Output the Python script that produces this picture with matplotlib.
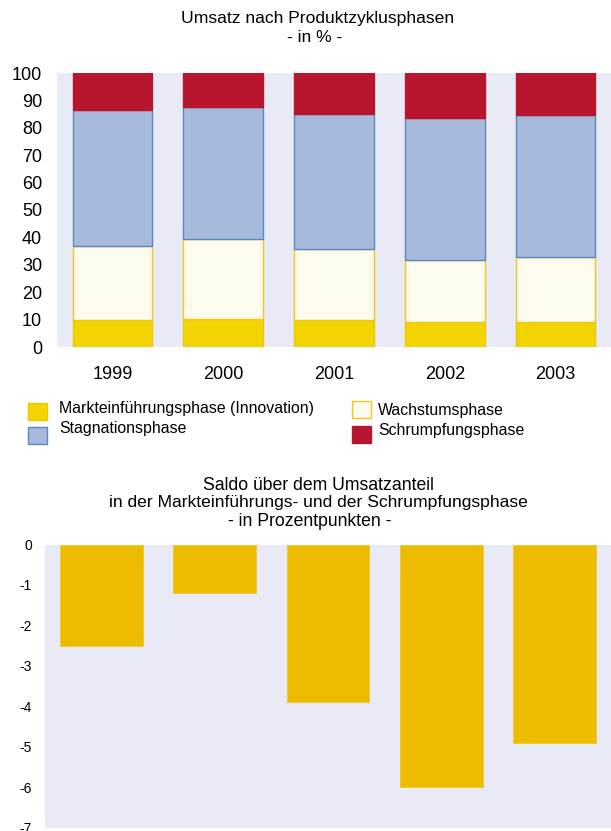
import matplotlib
matplotlib.use("Agg")
import matplotlib.pyplot as plt
from matplotlib.patches import Rectangle
import numpy as np

plt.rcParams['font.family'] = ['Liberation Sans', 'DejaVu Sans']
plt.rcParams['axes.unicode_minus'] = False

years = ["1999", "2000", "2001", "2002", "2003"]
markteinfuehrung = [9.7, 10.1, 9.7, 9.3, 9.3]
wachstum = [27.1, 29.2, 25.9, 22.6, 23.7]
stagnation = [49.6, 48.3, 49.6, 51.5, 51.5]
schrumpfung = [13.6, 12.4, 14.8, 16.6, 15.5]
saldo = [-2.5, -1.2, -3.9, -6.0, -4.9]

series_names = ["Markteinführungsphase (Innovation)", "Wachstumsphase",
                "Stagnationsphase", "Schrumpfungsphase"]

W, H = 611, 831
fig = plt.figure(figsize=(W / 100, H / 100), dpi=100)
bg = "#E8EAF6"

def px(x, y):
    return x / W, 1 - y / H

# ---------- top chart ----------
ax1 = fig.add_axes([57 / W, (H - 347) / H, (W - 57) / W, 274 / H])
ax1.set_facecolor(bg)
x = np.arange(len(years))
bw = 0.72
faces = ["#F2D500", "#FDFBEE", "#A7BADC", "#B8162E"]
edges = ["#F0C400", "#F5C518", "#5B87C0", "#B8162E"]
bottom = np.zeros(len(years))
for vals, fc, ec in zip([markteinfuehrung, wachstum, stagnation, schrumpfung], faces, edges):
    ax1.bar(x, vals, bw, bottom=bottom, color=fc, edgecolor=ec, linewidth=1.0)
    bottom += np.array(vals)
ax1.set_xlim(-0.5, 4.5)
ax1.set_ylim(0, 100)
ax1.set_yticks(range(0, 101, 10))
ax1.set_xticks(x)
ax1.set_xticklabels(years, fontsize=13)
ax1.tick_params(axis='y', length=0, pad=10.8, labelsize=13)
ax1.tick_params(axis='x', length=0, pad=14)
for s in ax1.spines.values():
    s.set_visible(False)

fig.text(*px(318, 18), "Umsatz nach Produktzyklusphasen", ha='center', va='center', fontsize=12.6)
fig.text(*px(315, 38), "- in % -", ha='center', va='center', fontsize=12.6)

# ---------- legend ----------
legend_items = [
    (28, 403, 59, 409, 0),
    (28, 427, 59, 428, 2),
    (352, 401, 378, 411, 1),
    (352, 426, 378, 431, 3),
]
for bx, by, tx, ty, i in legend_items:
    fx, fy = px(bx, by + 17)
    fig.add_artist(Rectangle((fx, fy), 19 / W, 17 / H, transform=fig.transFigure,
                             facecolor=faces[i], edgecolor=edges[i], linewidth=1.0))
    fig.text(*px(tx, ty), series_names[i], ha='left', va='center', fontsize=11.4)

# ---------- bottom chart ----------
fig.text(*px(318.5, 485), "Saldo über dem Umsatzanteil", ha='center', va='center', fontsize=12.7)
fig.text(*px(318.5, 503), "in der Markteinführungs- und der Schrumpfungsphase", ha='center', va='center', fontsize=12.6)
fig.text(*px(310, 522), "- in Prozentpunkten -", ha='center', va='center', fontsize=12.7)

ax2 = fig.add_axes([45 / W, (H - 827.5) / H, (W - 45) / W, 283 / H])
ax2.set_facecolor(bg)
ax2.bar(x, saldo, 0.73, color="#EDBB00", edgecolor="#F0C830", linewidth=0.6)
ax2.set_xlim(-0.5, 4.5)
ax2.set_ylim(-7, 0)
ax2.set_yticks(range(-7, 1))
ax2.tick_params(axis='y', length=0, pad=9.4, labelsize=10)
ax2.set_xticks([0.5, 1.5, 2.5, 3.5])
ax2.set_xticklabels([])
ax2.tick_params(axis='x', top=True, bottom=False, direction='out', color='white', length=2, width=1.5)
for s in ax2.spines.values():
    s.set_visible(False)

fig.savefig("out.png", dpi=100, facecolor='white')
